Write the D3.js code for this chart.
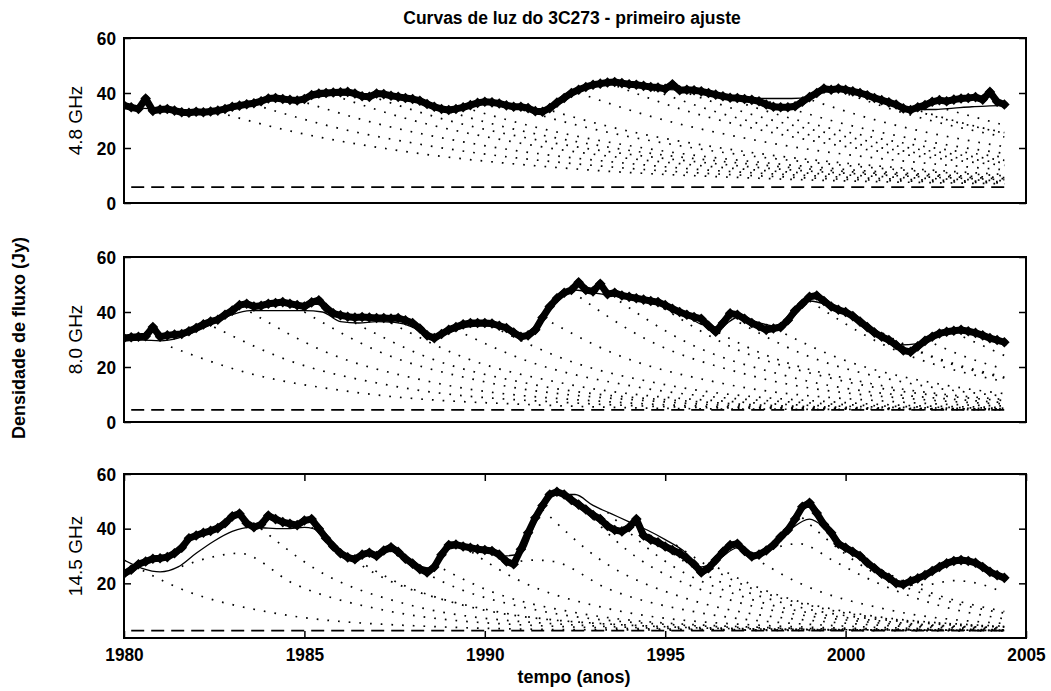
<!DOCTYPE html>
<html>
<head>
<meta charset="utf-8">
<script src="https://cdn.jsdelivr.net/npm/d3@7"></script>
<style>
  body { margin: 0; background: #fff; }
  svg text { font-family: "Liberation Sans", Arial, sans-serif; fill: #000; }
  .axis text { font-family: "Liberation Sans Narrow", "Liberation Sans", Arial, sans-serif; font-weight: bold; font-size: 19px; }
</style>
</head>
<body>
<svg id="chart" width="1051" height="691"></svg>
<script>
// observation times (years)
var years = [
  1980.0, 1980.2, 1980.4, 1980.6, 1980.8, 1981.0, 1981.2, 1981.4, 1981.6, 1981.8,
  1982.0, 1982.2, 1982.4, 1982.6, 1982.8, 1983.0, 1983.2, 1983.4, 1983.6, 1983.8,
  1984.0, 1984.2, 1984.4, 1984.6, 1984.8, 1985.0, 1985.2, 1985.4, 1985.6, 1985.8,
  1986.0, 1986.2, 1986.4, 1986.6, 1986.8, 1987.0, 1987.2, 1987.4, 1987.6, 1987.8,
  1988.0, 1988.2, 1988.4, 1988.6, 1988.8, 1989.0, 1989.2, 1989.4, 1989.6, 1989.8,
  1990.0, 1990.2, 1990.4, 1990.6, 1990.8, 1991.0, 1991.2, 1991.4, 1991.6, 1991.8,
  1992.0, 1992.2, 1992.4, 1992.6, 1992.8, 1993.0, 1993.2, 1993.4, 1993.6, 1993.8,
  1994.0, 1994.2, 1994.4, 1994.6, 1994.8, 1995.0, 1995.2, 1995.4, 1995.6, 1995.8,
  1996.0, 1996.2, 1996.4, 1996.6, 1996.8, 1997.0, 1997.2, 1997.4, 1997.6, 1997.8,
  1998.0, 1998.2, 1998.4, 1998.6, 1998.8, 1999.0, 1999.2, 1999.4, 1999.6, 1999.8,
  2000.0, 2000.2, 2000.4, 2000.6, 2000.8, 2001.0, 2001.2, 2001.4, 2001.6, 2001.8,
  2002.0, 2002.2, 2002.4, 2002.6, 2002.8, 2003.0, 2003.2, 2003.4, 2003.6, 2003.8,
  2004.0, 2004.2, 2004.4
];

// observed flux density (Jy)
var obs48 = [
  35.5, 34.8, 34.2, 38.0, 33.5, 34.0, 34.2, 33.6, 33.0, 32.8,
  33.2, 33.0, 33.3, 33.6, 34.2, 35.0, 35.4, 35.9, 36.3, 37.0,
  38.0, 38.2, 37.8, 37.5, 37.3, 37.8, 39.3, 39.8, 40.0, 40.2,
  40.3, 40.4, 39.8, 38.8, 38.6, 39.8, 39.6, 39.0, 38.6, 38.2,
  37.8, 37.2, 36.0, 35.0, 34.2, 33.8, 34.2, 34.8, 35.6, 36.4,
  36.8, 36.6, 36.2, 35.5, 35.0, 35.0, 34.5, 33.4, 33.2, 34.5,
  36.5, 38.2, 40.0, 41.2, 42.2, 43.0, 43.4, 43.8, 44.0, 43.6,
  43.2, 43.0, 42.6, 42.2, 42.0, 41.5, 43.2, 41.0, 41.2, 41.0,
  40.6, 40.0, 39.4, 38.8, 38.3, 38.2, 37.8, 37.5, 37.0, 35.8,
  35.0, 34.8, 34.8, 35.2, 36.8, 38.5, 40.0, 41.6, 41.2, 41.6,
  41.2, 40.6, 40.0, 39.2, 38.2, 37.4, 36.6, 35.8, 34.4, 33.8,
  34.8, 35.6, 36.8, 37.4, 37.0, 37.6, 38.0, 38.2, 38.5, 37.6,
  40.4, 36.8, 35.8
];
var obs80 = [
  30.5, 30.8, 31.0, 31.2, 34.5, 31.0, 31.5, 31.8, 32.0, 33.0,
  34.2, 35.5, 36.5, 37.2, 39.0, 40.5, 42.5, 43.0, 42.0, 42.3,
  43.0, 43.3, 43.6, 43.0, 42.5, 42.0, 43.5, 44.3, 41.5, 39.5,
  38.8, 38.3, 38.0, 38.2, 38.0, 37.8, 37.8, 37.6, 37.8, 37.0,
  36.0, 34.0, 31.5, 30.5, 32.0, 33.5, 34.5, 35.5, 36.0, 36.0,
  36.0, 35.8, 35.0, 34.2, 32.5, 31.0, 31.5, 33.5, 38.0, 42.0,
  45.0, 47.0, 48.0, 50.8, 48.0, 47.5, 50.3, 46.5, 47.0, 46.0,
  45.5, 45.0, 44.5, 44.0, 43.6, 42.5, 41.2, 40.0, 39.0, 38.2,
  37.5, 35.0, 32.8, 36.0, 39.5, 39.0, 37.5, 36.0, 34.8, 33.5,
  34.0, 34.5, 37.0, 40.5, 43.0, 45.5, 46.0, 44.0, 42.0, 40.8,
  40.0, 38.5, 36.5, 34.5, 32.5, 31.0, 29.8, 28.0, 26.0, 25.5,
  27.5, 29.5, 31.0, 32.2, 32.8, 33.2, 33.5, 33.0, 32.4, 31.5,
  30.5, 29.8, 29.0
];
var obs145 = [
  23.5, 25.0, 27.0, 28.0, 29.0, 29.2, 29.6, 31.0, 33.0, 36.5,
  37.5, 38.5, 39.2, 40.2, 42.0, 44.5, 45.5, 42.0, 40.5, 41.5,
  44.8, 43.5, 42.4, 41.8, 41.3, 43.0, 43.5, 40.0, 36.5, 33.5,
  31.0, 29.5, 28.8, 30.5, 31.2, 30.0, 32.0, 33.2, 31.5, 29.0,
  27.2, 25.2, 24.0, 26.0, 30.5, 34.0, 34.2, 33.5, 33.0, 32.5,
  32.2, 31.8, 30.5, 28.0, 27.0, 32.5, 38.5, 44.0, 48.5, 52.5,
  53.5, 52.5, 50.5, 48.8, 47.0, 45.0, 43.5, 41.0, 39.5, 39.0,
  40.5, 43.5, 37.5, 36.0, 35.0, 33.5, 32.2, 31.0, 29.2, 27.0,
  24.0, 25.5, 28.5, 31.5, 34.0, 34.5, 31.8, 29.8, 30.5, 32.0,
  34.0, 37.0, 39.5, 43.5, 48.0, 49.5, 45.7, 41.5, 38.5, 34.5,
  33.0, 31.5, 30.0, 27.5, 25.5, 23.5, 22.0, 20.0, 19.6, 20.8,
  21.8, 23.0, 24.5, 26.0, 27.3, 28.2, 28.5, 28.2, 27.5, 26.0,
  24.2, 23.0, 22.0
];

// model fit (solid line)
var fitYears = [
  1980, 1980.5, 1981, 1981.5, 1982, 1982.5, 1983, 1983.5, 1984, 1984.5,
  1985, 1985.5, 1986, 1986.5, 1987, 1987.5, 1988, 1988.5, 1989, 1989.5,
  1990, 1990.5, 1991, 1991.5, 1992, 1992.5, 1993, 1993.5, 1994, 1994.5,
  1995, 1995.5, 1996, 1996.5, 1997, 1997.5, 1998, 1998.5, 1999, 1999.5,
  2000, 2000.5, 2001, 2001.5, 2002, 2002.5, 2003, 2003.5, 2004, 2004.4
];
var fit48 = [
  35.0, 34.5, 34.0, 33.2, 33.0, 33.0, 34.0, 35.8, 37.8, 38.0,
  37.8, 38.8, 39.3, 39.0, 39.0, 38.5, 37.5, 35.5, 34.2, 35.0,
  36.0, 36.0, 35.3, 34.0, 36.0, 40.0, 43.5, 44.0, 43.2, 42.3,
  41.3, 41.0, 40.5, 39.2, 38.3, 38.0, 38.0, 38.0, 38.5, 40.5,
  40.8, 39.5, 37.5, 35.5, 34.0, 34.0, 34.5, 35.0, 35.3, 35.5
];
var fit80 = [
  29.5, 29.8, 29.5, 30.5, 33.0, 36.0, 39.0, 40.5, 40.5, 40.5,
  40.5, 40.0, 36.5, 36.0, 36.5, 36.2, 34.5, 30.5, 32.5, 34.5,
  35.0, 34.0, 31.5, 36.0, 44.5, 48.0, 47.0, 46.0, 45.0, 44.0,
  42.0, 39.5, 35.5, 34.5, 38.0, 36.5, 35.0, 38.5, 44.0, 42.5,
  39.5, 35.5, 31.5, 28.0, 28.5, 31.0, 32.5, 32.0, 30.0, 29.0
];
var fit145 = [
  28.5, 25.5, 24.2, 26.0, 31.0, 35.5, 39.0, 40.5, 40.2, 40.0,
  40.5, 38.5, 31.5, 29.8, 31.0, 31.8, 27.5, 25.5, 32.5, 33.5,
  32.5, 30.0, 31.0, 45.0, 52.5, 52.5, 48.5, 45.5, 42.5, 39.5,
  36.0, 32.0, 26.0, 29.0, 33.0, 31.0, 33.5, 40.0, 43.5, 39.5,
  33.5, 28.5, 23.5, 20.0, 21.5, 24.5, 27.5, 27.5, 24.5, 22.5
];

// quiescent level (dashed line)
var base48 = 5.8, base80 = 4.4, base145 = 2.7;

// cumulative flare components (dotted lines), [year, Jy]
var comp48 = [
  [[1982.6, 33.0], [1984.6, 26.2], [1987.6, 19.1], [1992.6, 12.3], [1997.6, 9.0], [2004.4, 7.0]],
  [[1983.6, 35.8], [1985.6, 28.3], [1988.6, 20.5], [1993.6, 13.0], [1998.6, 9.3], [2004.4, 7.3]],
  [[1984.8, 37.5], [1986.8, 29.6], [1989.8, 21.3], [1994.8, 13.4], [1999.8, 9.5], [2004.4, 7.7]],
  [[1985.8, 39.2], [1987.8, 30.8], [1990.8, 22.2], [1995.8, 13.8], [2000.8, 9.7], [2004.4, 8.1]],
  [[1986.8, 39.0], [1988.8, 30.7], [1991.8, 22.1], [1996.8, 13.8], [2001.8, 9.7], [2004.4, 8.5]],
  [[1988.2, 36.5], [1990.2, 28.8], [1993.2, 20.8], [1998.2, 13.2], [2003.2, 9.4], [2004.4, 8.8]],
  [[1989.4, 34.8], [1991.4, 27.6], [1994.4, 20.0], [1999.4, 12.8], [2004.4, 9.2]],
  [[1990.5, 36.0], [1992.5, 28.5], [1995.5, 20.6], [2000.5, 13.1], [2004.4, 9.9]],
  [[1991.6, 34.5], [1993.6, 27.3], [1996.6, 19.9], [2001.6, 12.7], [2004.4, 10.4]],
  [[1992.6, 40.0], [1994.6, 31.5], [1997.6, 22.6], [2002.6, 14.0], [2004.4, 12.1]],
  [[1993.4, 43.8], [1995.4, 34.3], [1998.4, 24.4], [2003.4, 15.0], [2004.4, 13.7]],
  [[1994.4, 42.3], [1996.4, 33.2], [1999.4, 23.7], [2004.4, 14.6]],
  [[1995.4, 41.0], [1997.4, 32.2], [2000.4, 23.1], [2004.4, 15.5]],
  [[1996.4, 39.5], [1998.4, 31.1], [2001.4, 22.3], [2004.4, 16.6]],
  [[1997.6, 38.0], [1999.6, 30.0], [2002.6, 21.6], [2004.4, 18.0]],
  [[1998.8, 38.5], [2000.8, 30.3], [2003.8, 21.8], [2004.4, 20.5]],
  [[1999.8, 40.8], [2001.8, 32.0], [2004.4, 24.0]],
  [[2000.8, 38.5], [2002.8, 30.3], [2004.4, 25.4]],
  [[2001.8, 34.5], [2003.8, 27.3], [2004.4, 25.6]],
  [[2002.8, 34.0], [2004.4, 28.3]]
];
var comp80 = [
  [[1981.3, 27.3], [1983.3, 18.3], [1986.3, 11.0], [1991.3, 6.3], [1997.0, 4.7], [2004.4, 4.5]],
  [[1982.5, 34.5], [1984.5, 22.7], [1987.5, 13.0], [1992.5, 6.9], [1998.0, 4.9], [2004.4, 4.5]],
  [[1983.5, 40.0], [1985.5, 26.0], [1988.5, 14.6], [1993.5, 7.3], [1999.0, 5.0], [2004.4, 4.6]],
  [[1985.0, 40.0], [1987.0, 26.0], [1990.0, 14.6], [1995.0, 7.3], [2000.0, 5.0], [2004.4, 4.7]],
  [[1986.4, 36.0], [1988.4, 23.6], [1991.4, 13.5], [1996.4, 7.0], [2001.0, 5.1], [2004.4, 4.75]],
  [[1987.4, 36.0], [1989.4, 23.6], [1992.4, 13.5], [1997.4, 7.0], [2002.0, 5.2], [2004.4, 4.85]],
  [[1989.2, 33.5], [1991.2, 22.1], [1994.2, 12.8], [1999.2, 6.8], [2004.4, 5.0]],
  [[1990.2, 34.8], [1992.2, 22.9], [1995.2, 13.1], [2000.2, 6.9], [2004.4, 5.3]],
  [[1991.6, 38.0], [1993.6, 24.8], [1996.6, 14.0], [2001.6, 7.2], [2004.4, 5.8]],
  [[1992.4, 47.5], [1994.4, 30.6], [1997.4, 16.8], [2002.4, 7.9], [2004.4, 6.6]],
  [[1993.5, 46.0], [1995.5, 29.6], [1998.5, 16.3], [2003.5, 7.8], [2004.4, 7.1]],
  [[1994.7, 43.5], [1996.7, 28.1], [1999.7, 15.6], [2004.4, 7.8]],
  [[1995.7, 38.0], [1997.7, 24.8], [2000.7, 14.0], [2004.4, 8.2]],
  [[1996.8, 38.0], [1998.8, 24.8], [2001.8, 14.0], [2004.4, 9.4]],
  [[1997.8, 35.5], [1999.8, 23.3], [2002.8, 13.3], [2004.4, 10.3]],
  [[1999.0, 44.0], [2001.0, 28.4], [2004.0, 15.8], [2004.4, 14.7]],
  [[2000.0, 40.0], [2002.0, 26.0], [2004.4, 16.3]],
  [[2001.0, 31.5], [2003.0, 20.8], [2004.4, 16.0]],
  [[2002.2, 30.0], [2003.2, 24.3], [2004.4, 19.2]],
  [[2003.0, 32.5], [2004.4, 24.2]]
];
var comp145 = [
  [[1980.0, 28.5], [1981.5, 18.4], [1984.0, 9.5], [1988.0, 4.5], [1993.0, 3.0], [2004.4, 2.7]],
  [[1981.6, 26.2], [1982.4, 29.5], [1983.2, 31.0], [1984.7, 19.9], [1987.2, 10.2], [1991.2, 4.7], [1996.2, 3.1], [2004.4, 2.7]],
  [[1983.8, 40.0], [1985.3, 25.3], [1987.8, 12.5], [1991.8, 5.3], [1996.8, 3.2], [2004.4, 2.8]],
  [[1985.2, 40.5], [1986.7, 25.6], [1989.2, 12.7], [1993.2, 5.3], [1998.2, 3.2], [2004.4, 2.8]],
  [[1986.2, 30.5], [1987.7, 19.6], [1990.2, 10.0], [1994.2, 4.6], [1999.2, 3.1], [2004.4, 2.8]],
  [[1987.3, 32.5], [1988.8, 20.8], [1991.3, 10.6], [1995.3, 4.8], [2000.3, 3.1], [2004.4, 2.8]],
  [[1988.6, 27.0], [1990.1, 17.4], [1992.6, 9.1], [1996.6, 4.4], [2001.6, 3.0], [2004.4, 2.85]],
  [[1989.4, 33.5], [1990.9, 21.4], [1993.4, 10.8], [1997.4, 4.8], [2002.4, 3.1], [2004.4, 2.9]],
  [[1990.7, 27.5], [1991.4, 28.5], [1991.9, 28.0], [1993.4, 18.1], [1995.9, 9.4], [1999.9, 4.4], [2004.4, 3.0]],
  [[1991.6, 47.0], [1993.1, 29.6], [1995.6, 14.4], [1999.6, 5.8], [2004.4, 3.3]],
  [[1992.4, 52.0], [1993.9, 32.6], [1996.4, 15.7], [2000.4, 6.1], [2004.4, 3.6]],
  [[1993.4, 46.0], [1994.9, 29.0], [1997.4, 14.1], [2001.4, 5.7], [2004.4, 3.8]],
  [[1994.3, 40.5], [1995.8, 25.6], [1998.3, 12.7], [2002.3, 5.3], [2004.4, 4.0]],
  [[1995.3, 34.0], [1996.8, 21.7], [1999.3, 11.0], [2003.3, 4.9], [2004.4, 4.2]],
  [[1996.2, 27.5], [1997.7, 17.8], [2000.2, 9.2], [2004.4, 4.3]],
  [[1997.2, 31.5], [1998.7, 20.2], [2001.2, 10.3], [2004.4, 5.3]],
  [[1997.9, 32.5], [1998.7, 34.5], [1999.7, 28.0], [2000.5, 22.5], [2002.7, 11.5], [2004.4, 7.0]],
  [[1998.8, 44.0], [2000.3, 27.8], [2002.8, 13.6], [2004.4, 9.1]],
  [[2000.5, 28.5], [2002.0, 18.4], [2004.4, 9.7]],
  [[2001.5, 19.5], [2002.2, 19.5], [2003.0, 21.0], [2003.8, 19.5], [2004.4, 16.5]]
];

var xTicks = [1980, 1985, 1990, 1995, 2000, 2005];
var panelLabels = ["4.8 GHz", "8.0 GHz", "14.5 GHz"];

var svg = d3.select("#chart");
var left = 124, right = 1026;

var x = d3.scaleLinear()
    .domain([1980, 2005])
    .range([left, right]);

var panels = [
  { top: 38,  bottom: 203, obs: obs48,  fit: fit48,  base: base48,  comps: comp48,  yTicks: [0, 20, 40, 60], xAxis: false },
  { top: 257, bottom: 422, obs: obs80,  fit: fit80,  base: base80,  comps: comp80,  yTicks: [0, 20, 40, 60], xAxis: false },
  { top: 474, bottom: 638, obs: obs145, fit: fit145, base: base145, comps: comp145, yTicks: [20, 40, 60],    xAxis: true }
];

var diamond = d3.symbol().type(d3.symbolSquare).size(56);

panels.forEach(function(p, i) {
  var y = d3.scaleLinear()
      .domain([0, 60])
      .range([p.bottom, p.top]);

  var line = d3.line()
      .x(function(d) { return x(d[0]); })
      .y(function(d) { return y(d[1]); })
      .curve(d3.curveMonotoneX);

  svg.append("clipPath")
      .attr("id", "clip" + i)
    .append("rect")
      .attr("x", left)
      .attr("y", p.top)
      .attr("width", right - left)
      .attr("height", p.bottom - p.top);

  var plot = svg.append("g")
      .attr("clip-path", "url(#clip" + i + ")");

  // Components
  plot.selectAll(".comp")
      .data(p.comps)
    .enter().append("path")
      .attr("class", "comp")
      .attr("d", line)
      .attr("fill", "none")
      .attr("stroke", "#000")
      .attr("stroke-width", 1.7)
      .attr("stroke-dasharray", "1.7,9");

  // Quiescent level
  plot.append("path")
      .attr("d", line([[years[1], p.base], [years[years.length - 1], p.base]]))
      .attr("fill", "none")
      .attr("stroke", "#000")
      .attr("stroke-width", 1.7)
      .attr("stroke-dasharray", "13,7");

  // Observations: dense markers that merge into a band
  var obsPts = years.map(function(t, j) { return [t, p.obs[j]]; });
  plot.append("path")
      .attr("d", d3.line().x(function(d) { return x(d[0]); }).y(function(d) { return y(d[1]); })(obsPts))
      .attr("fill", "none")
      .attr("stroke", "#000")
      .attr("stroke-width", 7)
      .attr("stroke-linejoin", "round")
      .attr("stroke-linecap", "round");

  plot.selectAll(".obs")
      .data(obsPts)
    .enter().append("path")
      .attr("class", "obs")
      .attr("d", diamond)
      .attr("fill", "#000")
      .attr("transform", function(d) {
        return "translate(" + x(d[0]) + "," + y(d[1]) + ") rotate(45)";
      });

  // Fit
  plot.append("path")
      .attr("d", line(fitYears.map(function(t, j) { return [t, p.fit[j]]; })))
      .attr("fill", "none")
      .attr("stroke", "#000")
      .attr("stroke-width", 1.3);

  // Y Axis
  svg.append("g")
      .attr("class", "axis")
      .attr("transform", "translate(" + left + ",0)")
      .call(d3.axisLeft(y).tickValues(p.yTicks).tickSize(-7).tickPadding(8));
  svg.append("g")
      .attr("class", "axis")
      .attr("transform", "translate(" + right + ",0)")
      .call(d3.axisRight(y).tickValues(p.yTicks).tickSize(-7).tickFormat(""));

  // X Axis
  if (p.xAxis) {
    svg.append("g")
        .attr("class", "axis")
        .attr("transform", "translate(0," + p.bottom + ")")
        .call(d3.axisBottom(x).tickValues(xTicks).tickSize(-7).tickPadding(10).tickFormat(d3.format("d")));
    svg.append("g")
        .attr("class", "axis")
        .attr("transform", "translate(0," + p.top + ")")
        .call(d3.axisTop(x).tickValues(xTicks).tickSize(-7).tickFormat(""));
  }

  // Frame
  svg.append("rect")
      .attr("x", left)
      .attr("y", p.top)
      .attr("width", right - left)
      .attr("height", p.bottom - p.top)
      .attr("fill", "none")
      .attr("stroke", "#000")
      .attr("stroke-width", 2);

  // Panel label
  svg.append("text")
      .attr("transform", "translate(82," + (p.top + p.bottom) / 2 + ") rotate(-90)")
      .attr("text-anchor", "middle")
      .attr("font-size", "19px")
      .text(panelLabels[i]);
});

svg.selectAll(".axis .domain").remove();
svg.selectAll(".axis line").attr("stroke", "#000").attr("stroke-width", 1.5);
svg.selectAll(".axis").attr("font-family", null).attr("font-size", null);
// condensed tick digits
svg.selectAll(".axis text")
    .filter(function() { return this.textContent.length > 0; })
    .attr("textLength", function() { return this.textContent.length * 9.6; })
    .attr("lengthAdjust", "spacingAndGlyphs");

// Title
svg.append("text")
    .attr("x", 572)
    .attr("y", 24)
    .attr("text-anchor", "middle")
    .attr("font-size", "17.5px")
    .attr("font-weight", "bold")
    .text("Curvas de luz do 3C273 - primeiro ajuste");

// X Label
svg.append("text")
    .attr("x", 574)
    .attr("y", 683)
    .attr("text-anchor", "middle")
    .attr("font-size", "18px")
    .attr("font-weight", "bold")
    .text("tempo (anos)");

// Y Label
svg.append("text")
    .attr("transform", "translate(25,338) rotate(-90)")
    .attr("text-anchor", "middle")
    .attr("font-size", "18px")
    .attr("font-weight", "bold")
    .text("Densidade de fluxo (Jy)");
</script>
</body>
</html>
